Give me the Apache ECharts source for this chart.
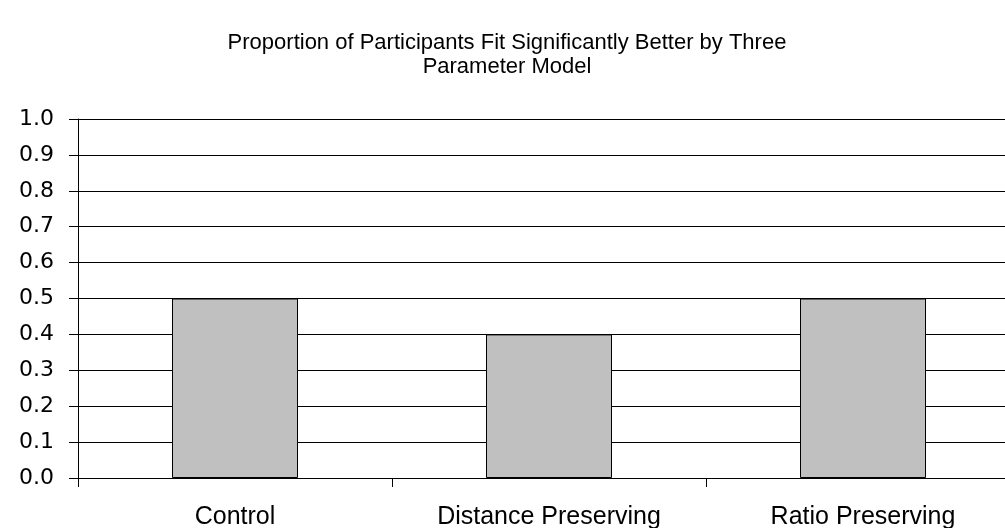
<!DOCTYPE html>
<html><head><meta charset="utf-8">
<script src="https://cdn.jsdelivr.net/npm/echarts@6/dist/echarts.min.js"></script>
<style>html,body{margin:0;padding:0;background:#fff}#c{width:1005px;height:528px}</style>
</head><body><div id="c"></div>
<script>
var categories = ["Control", "Distance Preserving", "Ratio Preserving"];
var values = [0.5, 0.4, 0.5];
var titleText = "Proportion of Participants Fit Significantly Better by Three\nParameter Model";
var chart = echarts.init(document.getElementById('c'));
chart.setOption({
  backgroundColor: '#fff',
  animation: false,
  title: {
    text: titleText, left: 502, top: 26, textAlign: 'center',
    textStyle: { fontFamily: 'Liberation Sans, Arial', fontSize: 22, fontWeight: 'normal', color: '#000', lineHeight: 24 }
  },
  grid: { left: 78, width: 942, top: 119, height: 359, outerBoundsMode: 'none', containLabel: false },
  xAxis: {
    type: 'category', data: categories,
    axisLine: { lineStyle: { color: '#000', width: 1 } },
    axisTick: { show: true, length: 9, lineStyle: { color: '#000' } },
    axisLabel: { color: '#000', fontSize: 25, fontFamily: 'Liberation Sans, Arial', margin: 27 }
  },
  yAxis: {
    type: 'value', min: 0, max: 1, interval: 0.1,
    axisLine: { show: true, lineStyle: { color: '#000', width: 1 } },
    axisTick: { show: true, length: 9, lineStyle: { color: '#000' } },
    axisLabel: { color: '#000', fontSize: 22, fontFamily: 'DejaVu Sans', margin: 24,
      formatter: function (v) { return v.toFixed(1); } },
    splitLine: { show: true, lineStyle: { color: '#000', width: 1 } }
  },
  series: [{
    type: 'bar', data: values, barWidth: 126,
    itemStyle: { color: '#c0c0c0', borderColor: '#000', borderWidth: 1 }
  }]
});
</script></body></html>
